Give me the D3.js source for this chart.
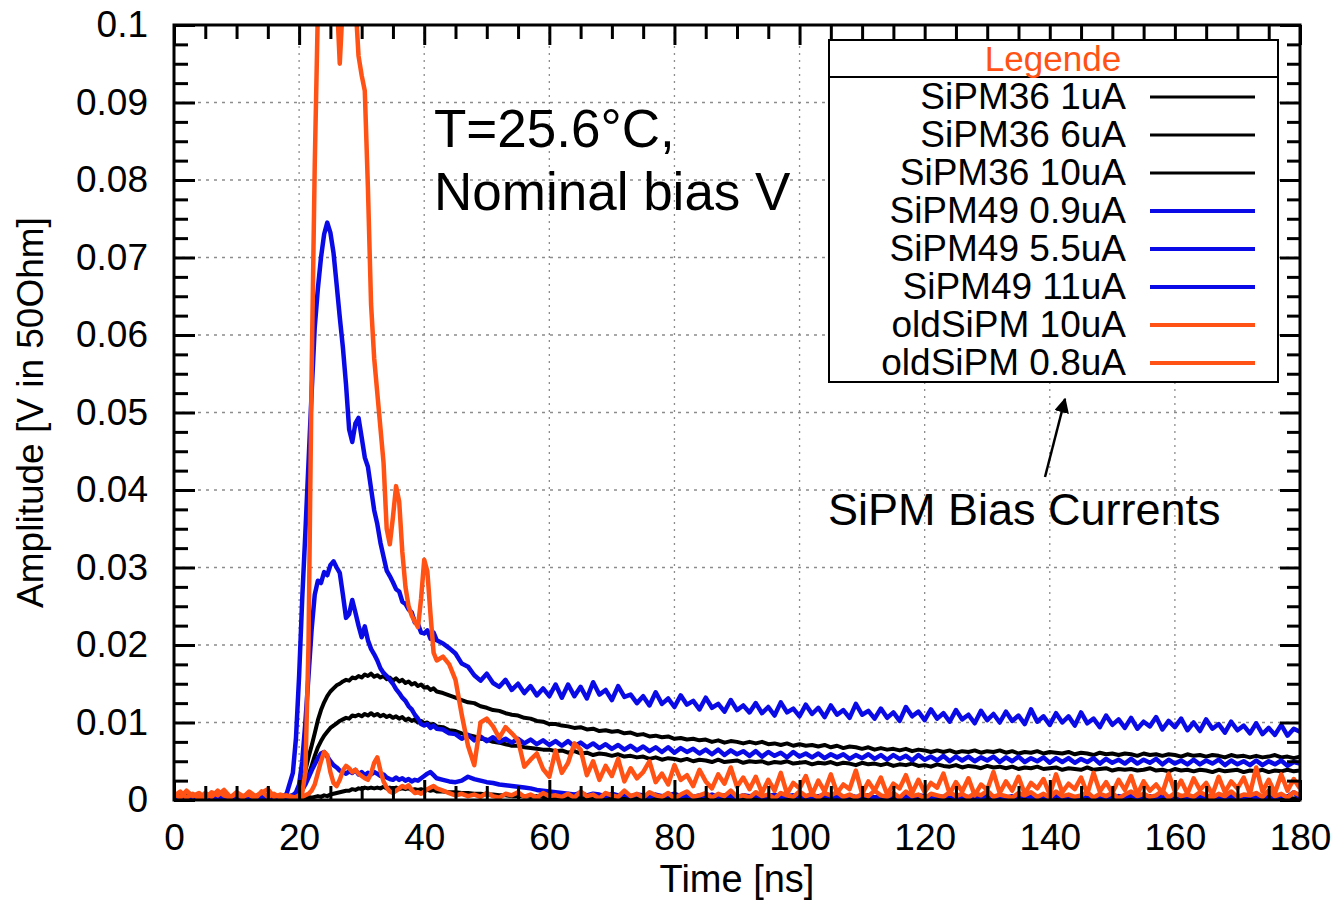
<!DOCTYPE html>
<html>
<head>
<meta charset="utf-8">
<script src="https://cdn.jsdelivr.net/npm/d3@7"></script>
<style>
  body { margin: 0; background: #fff; }
  text { font-family: "Liberation Sans", Arial, Helvetica, sans-serif; }
</style>
</head>
<body>
<div id="chart"></div>
<script>
// sample times in ns (finer around the pulse)
var times = [0,1,2,3,4,5,6,7,8,9,10,11,12,13,14,15,16,17,18,19,
  19.5,20,20.5,21,21.5,22,22.5,23,23.5,24,24.5,25,25.5,26,26.5,27,27.5,28,28.5,29,
  29.5,30,30.5,31,31.5,32,32.5,33,33.5,34,34.5,35,35.5,36,36.5,37,37.5,38,38.5,39,
  39.5,40,40.5,41,41.5,42,
  43,44,45,46,47,48,49,50,51,52,
  53,54,55,56,57,58,59,60,61,62,
  63,64,65,66,67,68,69,70,71,72,
  73,74,75,76,77,78,79,80,81,82,
  83,84,85,86,87,88,89,90,91,92,
  93,94,95,96,97,98,99,100,101,102,
  103,104,105,106,107,108,109,110,111,112,
  113,114,115,116,117,118,119,120,121,122,
  123,124,125,126,127,128,129,130,131,132,
  133,134,135,136,137,138,139,140,141,142,
  143,144,145,146,147,148,149,150,151,152,
  153,154,155,156,157,158,159,160,161,162,
  163,164,165,166,167,168,169,170,171,172,
  173,174,175,176,177,178,179,180];

// amplitudes in mV
var sipm36_1uA = [0.3,0.2,0.4,0.1,0.3,0.2,0.4,0.3,0.1,0.3,0.2,0.4,0.2,0.3,0.1,0.3,0.2,0.4,0.2,0.3,
  0.2,0.3,0.2,0.3,0.4,0.3,0.4,0.5,0.4,0.6,0.5,0.7,0.8,0.9,1.0,1.1,1.2,1.2,1.4,1.3,
  1.5,1.4,1.6,1.5,1.6,1.5,1.6,1.5,1.7,1.5,1.6,1.5,1.6,1.4,1.5,1.4,1.5,1.3,1.4,1.3,
  1.4,1.2,1.3,1.2,1.3,1.1,
  1.1,1.0,1.0,0.9,0.9,0.8,0.8,0.7,0.7,0.6,
  0.6,0.5,0.5,0.5,0.4,0.5,0.4,0.4,0.3,0.4,
  0.3,0.4,0.2,0.3,0.4,0.3,0.2,0.4,0.3,0.3,
  0.2,0.4,0.3,0.2,0.3,0.4,0.3,0.2,0.4,0.3,
  0.3,0.2,0.4,0.3,0.2,0.3,0.4,0.2,0.3,0.3,
  0.4,0.3,0.2,0.3,0.4,0.2,0.3,0.4,0.3,0.2,
  0.3,0.4,0.3,0.2,0.3,0.3,0.4,0.2,0.3,0.4,
  0.2,0.3,0.4,0.3,0.2,0.4,0.3,0.3,0.2,0.4,
  0.3,0.2,0.3,0.4,0.3,0.2,0.4,0.3,0.2,0.3,
  0.4,0.3,0.2,0.3,0.4,0.3,0.3,0.2,0.4,0.3,
  0.2,0.4,0.3,0.3,0.2,0.4,0.3,0.2,0.3,0.4,
  0.3,0.2,0.4,0.3,0.3,0.2,0.3,0.4,0.2,0.3,
  0.4,0.3,0.2,0.4,0.3,0.2,0.3,0.3,0.4,0.2,
  0.3,0.4,0.2,0.3,0.4,0.3,0.2,0.3];

var sipm36_6uA = [0.3,0.4,0.2,0.3,0.5,0.3,0.2,0.4,0.3,0.5,0.2,0.4,0.3,0.2,0.4,0.3,0.5,0.3,0.4,0.5,
  0.6,0.9,1.5,2.3,3.2,4.4,5.7,6.8,7.6,8.3,8.8,9.3,9.6,9.9,10.2,10.4,10.6,10.5,10.9,10.8,
  11.0,10.8,11.1,10.9,11.2,10.9,11.1,10.8,11.0,10.7,10.9,10.6,10.8,10.5,10.7,10.3,10.5,10.2,10.4,10.0,
  10.2,9.9,10.0,9.7,9.8,9.5,
  9.4,9.0,8.9,8.6,8.4,8.2,7.9,7.8,7.5,7.4,
  7.2,7.0,7.0,6.8,6.7,6.6,6.5,6.5,6.3,6.4,
  6.1,6.3,6.0,6.1,5.8,6.0,5.9,5.7,5.9,5.6,
  5.7,5.5,5.6,5.3,5.5,5.2,5.4,5.3,5.1,5.3,
  5.0,5.2,5.1,4.9,5.2,4.9,5.0,5.1,4.8,5.0,
  4.9,5.0,4.7,4.9,4.8,5.0,4.7,4.8,4.9,4.6,
  4.8,4.7,4.9,4.6,4.8,4.7,4.5,4.8,4.6,4.7,
  4.5,4.7,4.4,4.6,4.5,4.7,4.4,4.5,4.3,4.6,
  4.4,4.3,4.5,4.2,4.4,4.3,4.1,4.4,4.2,4.3,
  4.1,4.3,4.0,4.2,4.1,4.3,4.0,4.1,4.2,3.9,
  4.1,4.0,3.9,4.2,3.9,4.0,4.1,3.8,4.0,3.9,
  4.0,3.8,3.9,4.1,3.8,3.9,3.7,4.0,3.8,3.9,
  3.7,3.9,3.8,3.6,3.9,3.7,3.8,3.9,3.6,3.8,
  3.7,3.9,3.6,3.8,3.7,3.9,3.7,3.8];

var sipm36_10uA = [0.4,0.3,0.5,0.2,0.4,0.3,0.5,0.4,0.2,0.4,0.3,0.5,0.3,0.4,0.2,0.5,0.3,0.4,0.5,0.6,
  0.7,1.0,2.2,3.8,5.5,7.0,8.6,10.3,11.6,12.6,13.4,14.0,14.4,14.8,15.0,15.3,15.5,15.4,15.8,15.7,
  16.0,15.8,16.2,16.0,16.3,15.9,16.1,15.8,16.0,15.6,15.8,15.4,15.7,15.3,15.5,15.1,15.3,14.9,15.1,14.7,
  14.9,14.5,14.6,14.2,14.4,14.0,
  13.8,13.5,13.2,12.9,12.6,12.5,12.1,11.9,11.6,11.5,
  11.2,11.0,10.9,10.6,10.5,10.2,10.1,9.8,9.8,9.6,
  9.5,9.3,9.4,9.1,9.2,8.9,9.0,8.8,8.9,8.6,
  8.7,8.4,8.5,8.2,8.3,8.1,8.2,7.9,8.0,7.8,
  7.9,7.7,7.8,7.5,7.7,7.4,7.6,7.5,7.3,7.5,
  7.3,7.5,7.2,7.3,7.1,7.3,7.0,7.2,7.0,7.1,
  6.9,7.1,6.8,7.0,6.7,6.9,6.8,6.6,6.8,6.5,
  6.7,6.5,6.6,6.4,6.6,6.3,6.5,6.4,6.2,6.4,
  6.2,6.4,6.1,6.3,6.2,6.4,6.1,6.3,6.2,6.4,
  6.1,6.3,6.0,6.2,6.1,6.3,6.0,6.2,6.1,6.0,
  6.2,5.9,6.1,6.0,5.8,6.1,5.9,6.0,5.8,6.0,
  5.9,5.7,6.0,5.8,5.9,5.7,5.9,5.8,5.6,5.9,
  5.7,5.8,5.6,5.8,5.7,5.5,5.8,5.6,5.7,5.5,
  5.7,5.5,5.6,5.8,5.5,5.6,5.4,5.6];

var sipm49_09uA = [0.2,0.4,0.3,0.1,0.3,0.4,0.2,0.3,0.4,0.2,0.3,0.1,0.4,0.3,0.2,0.4,0.3,0.2,0.3,0.5,
  0.6,0.9,1.3,2.0,2.9,3.8,4.6,5.4,6.0,6.2,5.6,5.0,4.5,4.2,3.8,3.6,3.4,3.7,3.5,3.9,
  3.3,3.6,3.2,3.5,3.3,3.6,3.4,3.1,3.3,2.9,2.7,2.6,2.9,2.6,2.8,2.5,2.7,2.4,2.6,2.5,
  2.8,3.1,3.4,3.6,3.2,2.8,
  2.6,2.4,2.3,2.5,3.0,2.7,2.5,2.3,2.2,2.0,
  1.9,1.8,1.7,1.6,1.5,1.3,1.2,1.1,1.0,0.9,
  0.8,0.7,0.9,0.6,0.8,0.7,0.5,0.8,0.6,0.7,
  0.5,0.7,0.6,0.4,0.7,0.5,0.6,0.8,0.5,0.6,
  0.4,0.6,0.5,0.7,0.4,0.6,0.5,0.3,0.6,0.5,
  0.6,0.4,0.5,0.7,0.4,0.5,0.6,0.4,0.5,0.3,
  0.5,0.6,0.4,0.5,0.3,0.6,0.4,0.5,0.6,0.3,
  0.5,0.4,0.6,0.3,0.5,0.4,0.6,0.5,0.3,0.5,
  0.4,0.6,0.3,0.5,0.4,0.5,0.3,0.6,0.4,0.5,
  0.3,0.5,0.4,0.6,0.3,0.4,0.5,0.3,0.6,0.4,
  0.5,0.3,0.4,0.6,0.3,0.5,0.4,0.3,0.5,0.4,
  0.6,0.3,0.4,0.5,0.3,0.6,0.4,0.3,0.5,0.4,
  0.3,0.5,0.4,0.6,0.3,0.4,0.5,0.3,0.4,0.6,
  0.3,0.5,0.4,0.3,0.6,0.4,1.0,0.3];

var sipm49_55uA = [0.3,0.5,0.2,0.4,0.3,0.2,0.5,0.3,0.4,0.2,0.3,0.5,0.2,0.4,0.3,0.5,0.2,0.4,0.3,0.6,
  1.0,2.0,5.0,10.0,16.0,22.0,26.5,28.3,28.0,29.4,29.0,30.3,30.8,30.0,29.3,26.5,23.5,24.0,25.8,24.2,
  22.5,21.0,22.4,20.6,19.5,18.8,18.0,17.0,16.4,16.0,15.5,15.0,14.3,13.8,13.2,12.8,12.1,11.7,11.0,10.5,
  9.8,9.6,9.8,9.3,9.6,9.2,
  9.1,8.6,8.5,7.9,8.4,7.7,8.2,7.6,8.1,7.5,
  7.9,7.4,7.9,7.3,7.8,7.2,7.7,7.1,7.6,7.0,
  7.6,6.9,7.4,6.8,7.3,6.7,7.2,6.6,7.1,6.5,
  7.0,6.4,6.9,6.3,6.8,6.2,6.8,6.1,6.7,6.2,
  6.6,6.0,6.5,5.9,6.5,5.8,6.4,5.9,6.3,5.7,
  6.3,5.6,6.2,5.7,6.1,5.5,6.2,5.6,6.0,5.5,
  6.0,5.4,5.9,5.5,5.9,5.3,5.8,5.4,5.9,5.3,
  5.8,5.2,5.8,5.3,5.7,5.1,5.8,5.2,5.6,5.1,
  5.7,5.0,5.6,5.1,5.6,5.0,5.5,5.1,5.6,4.9,
  5.5,5.0,5.6,4.9,5.4,5.0,5.5,4.8,5.4,4.9,
  5.4,4.8,5.3,4.9,5.4,4.7,5.3,4.8,5.2,4.7,
  5.3,4.7,5.2,4.8,5.3,4.6,5.2,4.7,5.1,4.6,
  5.2,4.6,5.1,4.7,5.2,4.5,5.1,4.6,5.0,4.5,
  5.1,4.5,5.0,4.6,5.1,4.4,4.9,4.7];

var sipm49_11uA = [0.3,0.5,0.2,0.4,0.6,0.3,0.2,0.5,0.4,0.3,0.5,0.2,0.4,0.3,0.6,0.2,0.4,0.3,0.8,3.5,
  8.0,16.0,26.0,34.5,43.5,52.5,61.0,66.0,70.0,73.0,74.5,73.2,70.6,66.5,62.3,58.4,53.6,47.8,46.2,48.6,
  49.3,46.8,44.2,43.0,40.2,37.4,35.6,33.2,31.4,29.6,28.9,28.1,27.2,26.9,25.6,25.3,24.6,24.2,22.9,22.7,
  21.6,21.5,21.9,20.8,21.6,20.6,
  20.2,19.6,18.9,17.6,17.2,16.1,15.4,16.3,15.1,14.6,
  15.5,14.2,15.0,13.8,14.7,13.5,14.4,13.4,14.9,13.2,
  14.9,13.4,14.6,13.1,15.2,13.6,14.2,12.9,14.7,13.3,
  13.6,12.5,13.4,12.2,13.9,12.4,13.1,12.0,13.5,12.3,
  12.8,11.7,13.2,11.9,12.4,11.4,12.9,11.6,12.2,11.3,
  12.5,11.2,12.0,10.9,12.6,11.3,11.8,10.8,12.3,11.1,
  11.9,10.7,12.2,11.0,11.6,10.6,12.4,11.0,11.5,10.5,
  11.8,10.6,11.3,10.2,12.0,10.8,11.4,10.3,11.7,10.5,
  11.2,10.1,11.6,10.4,11.0,9.9,11.5,10.3,11.1,10.0,
  11.4,10.2,10.9,9.8,11.7,10.1,10.8,9.7,11.2,10.0,
  10.8,9.6,11.3,9.9,10.5,9.4,10.9,9.7,10.4,9.3,
  10.6,9.2,10.1,9.5,10.7,9.1,10.2,9.4,10.5,9.0,
  10.0,8.9,10.4,9.2,9.8,8.7,10.1,9.0,9.6,8.6,
  9.9,8.5,9.3,8.4,9.7,8.3,9.2,8.8];

var oldsipm_10uA = [0.8,0.3,1.2,0.5,0.9,0.2,1.0,0.6,1.3,0.4,0.8,0.3,1.1,0.5,0.9,1.4,0.4,0.7,0.5,0.3,
  0.4,0.6,0.9,3.5,20.0,55.0,82.0,102,112,118,121,120,116,104,95.0,103,115,118,112,103,
  96.0,93.5,91.5,79.0,64.0,57.0,52.5,48.0,43.5,35.0,33.0,36.5,40.5,38.5,32.0,27.5,25.0,23.8,23.0,22.3,
  26.0,31.0,29.5,24.0,19.0,18.0,
  18.5,17.5,15.5,11.0,7.0,4.5,10.0,10.5,9.5,8.0,
  9.4,8.6,7.7,4.3,5.2,6.0,4.0,3.0,6.4,3.5,
  4.8,7.3,6.5,3.2,5.0,2.6,4.4,3.1,5.3,2.4,
  4.1,2.8,3.6,5.0,2.3,3.4,2.0,4.5,2.6,3.2,
  1.8,3.9,2.4,1.5,3.3,2.1,4.2,1.7,2.9,1.4,
  3.0,0.9,2.6,1.2,3.5,0.8,2.2,1.5,3.1,0.7,
  2.5,1.1,3.3,0.9,2.0,1.4,3.8,0.8,2.4,1.2,
  2.9,0.7,2.1,1.5,3.2,0.9,2.6,1.0,2.2,1.6,
  3.4,0.8,2.3,1.1,2.8,0.6,2.0,1.3,3.6,0.9,
  2.4,1.2,3.0,0.8,2.2,1.5,2.7,0.7,3.3,1.0,
  2.1,1.4,2.9,0.8,3.5,1.1,2.3,0.9,2.6,1.3,
  3.1,0.7,2.4,1.2,2.0,0.9,3.4,1.1,2.5,0.8,
  2.8,1.3,2.2,0.7,3.0,1.0,2.4,1.5,2.9,0.8,
  4.2,1.1,2.6,0.9,3.3,1.2,2.7,1.5];

var oldsipm_08uA = [0.5,1.1,0.3,0.8,0.2,0.9,0.4,1.2,0.6,0.3,1.0,0.5,0.7,0.2,1.1,0.4,0.8,0.3,0.6,0.4,
  0.3,0.5,0.4,0.6,0.8,1.2,2.0,3.5,5.0,6.2,5.8,3.6,2.2,1.8,2.6,3.8,4.4,4.1,3.6,3.9,
  3.4,3.1,2.8,2.6,3.4,4.8,5.5,3.8,2.4,1.6,1.1,0.9,1.2,1.5,1.8,1.6,1.9,1.3,0.9,1.0,
  0.8,1.1,1.4,1.6,1.8,1.5,
  1.2,0.9,0.6,0.8,0.5,0.7,0.4,0.9,0.5,0.3,
  0.8,0.6,1.0,0.4,0.7,0.3,0.9,0.5,0.6,0.4,
  0.8,0.3,1.1,0.5,0.7,0.2,0.9,0.6,0.4,1.2,
  0.5,0.8,0.3,1.0,0.6,0.4,0.9,0.2,0.7,1.1,
  0.4,0.6,0.9,0.3,0.8,0.5,1.2,0.4,0.6,0.3,
  1.0,0.5,0.7,0.2,0.9,0.6,0.4,1.1,0.5,0.8,
  0.3,0.9,0.6,1.0,0.4,0.7,0.3,0.8,0.5,1.2,
  0.6,0.4,0.9,0.3,1.1,0.5,0.7,0.2,0.8,0.6,
  0.4,1.0,0.5,0.8,0.3,0.9,0.6,1.2,0.4,0.7,
  0.5,0.3,0.9,0.6,1.0,0.4,0.8,0.3,1.1,0.5,
  0.7,0.4,0.6,1.0,0.3,0.8,0.5,0.9,0.2,0.7,
  1.1,0.5,0.8,0.4,0.6,1.2,0.3,0.9,0.5,0.7,
  0.4,1.0,0.6,0.3,0.8,0.5,1.1,0.4,0.7,0.6,
  0.9,0.4,1.2,0.5,0.8,0.3,1.0,0.6];

var seriesNames = ["SiPM36 1uA", "SiPM36 6uA", "SiPM36 10uA", "SiPM49 0.9uA",
                   "SiPM49 5.5uA", "SiPM49 11uA", "oldSiPM 10uA", "oldSiPM 0.8uA"];
var seriesValues = [sipm36_1uA, sipm36_6uA, sipm36_10uA, sipm49_09uA,
                    sipm49_55uA, sipm49_11uA, oldsipm_10uA, oldsipm_08uA];

var xMajor = [0, 20, 40, 60, 80, 100, 120, 140, 160, 180];
var yMajor = [0, 10, 20, 30, 40, 50, 60, 70, 80, 90, 100];   // mV
var yTickLabels = ["0", "0.01", "0.02", "0.03", "0.04", "0.05", "0.06", "0.07", "0.08", "0.09", "0.1"];

// styling
var BLUE = "#0a0ae6", ORANGE = "#ff5214";
var lineColors = ["#000", "#000", "#000", BLUE, BLUE, BLUE, ORANGE, ORANGE];
var lineWidths = [4, 4, 4, 4.5, 4.5, 4.5, 4.5, 4.5];
var legendWidths = [3, 3, 3, 4, 4, 4, 4, 4];

var W = 1336, H = 904;
var plot = { left: 174, right: 1300, top: 25, bottom: 800 };

var svg = d3.select("#chart").append("svg")
    .attr("width", W)
    .attr("height", H);
svg.append("rect").attr("width", W).attr("height", H).attr("fill", "#fff");

var x = d3.scaleLinear().domain([0, 180]).range([plot.left, plot.right]);
var y = d3.scaleLinear().domain([0, 100]).range([plot.bottom, plot.top]);

svg.append("clipPath").attr("id", "plotclip")
    .append("rect")
    .attr("x", plot.left).attr("y", plot.top)
    .attr("width", plot.right - plot.left).attr("height", plot.bottom - plot.top);

// grid
var grid = svg.append("g").attr("stroke", "#8c8c8c").attr("stroke-width", 1.3);
grid.selectAll(".hgrid")
    .data(yMajor.filter(d => d > 0 && d < 100))
    .enter().append("line")
    .attr("x1", plot.left).attr("x2", plot.right)
    .attr("y1", d => y(d)).attr("y2", d => y(d))
    .attr("stroke-dasharray", "3,5");
grid.selectAll(".vgrid")
    .data(xMajor.filter(d => d > 0 && d < 180))
    .enter().append("line")
    .attr("y1", plot.top).attr("y2", plot.bottom)
    .attr("x1", d => x(d)).attr("x2", d => x(d))
    .attr("stroke-dasharray", "2,5");

// curves
var line = d3.line()
    .defined(d => d[1] != null && !isNaN(d[1]))
    .x(d => x(d[0]))
    .y(d => y(d[1]));

var curves = svg.append("g").attr("clip-path", "url(#plotclip)");
seriesValues.forEach(function (vals, i) {
    if (vals.length !== times.length) console.error(seriesNames[i], vals.length, times.length);
    var pts = times.map((t, j) => [t, vals[j]]);
    curves.append("path")
        .datum(pts)
        .attr("fill", "none")
        .attr("stroke", lineColors[i])
        .attr("stroke-width", lineWidths[i])
        .attr("stroke-linejoin", "round")
        .attr("d", line);
});

// axes: ticks on all four sides pointing inward
var xMinor = d3.range(0, 181, 5).filter(d => d % 20 !== 0);
var yMinor = d3.range(0, 100.1, 2.5).filter(d => d % 10 !== 0);

function styleAxis(g) {
    g.select(".domain").remove();
    g.selectAll(".tick line").attr("stroke", "#000").attr("stroke-width", 3);
    g.selectAll("text")
        .attr("fill", "#000")
        .style("font-family", '"Liberation Sans", Arial, Helvetica, sans-serif')
        .style("font-size", "37px");
}

svg.append("g").attr("transform", "translate(0," + plot.bottom + ")")
    .call(d3.axisBottom(x).tickValues(xMajor).tickSize(-20).tickPadding(24).tickFormat(d => d))
    .call(styleAxis);
svg.append("g").attr("transform", "translate(0," + plot.bottom + ")")
    .call(d3.axisBottom(x).tickValues(xMinor).tickSize(-14).tickFormat(""))
    .call(styleAxis);
svg.append("g").attr("transform", "translate(0," + plot.top + ")")
    .call(d3.axisTop(x).tickValues(xMajor).tickSize(-20).tickFormat(""))
    .call(styleAxis);
svg.append("g").attr("transform", "translate(0," + plot.top + ")")
    .call(d3.axisTop(x).tickValues(xMinor).tickSize(-14).tickFormat(""))
    .call(styleAxis);

svg.append("g").attr("transform", "translate(" + plot.left + ",0)")
    .call(d3.axisLeft(y).tickValues(yMajor).tickSize(-21).tickPadding(26)
        .tickFormat((d, i) => yTickLabels[i]))
    .call(styleAxis);
svg.append("g").attr("transform", "translate(" + plot.left + ",0)")
    .call(d3.axisLeft(y).tickValues(yMinor).tickSize(-14).tickFormat(""))
    .call(styleAxis);
svg.append("g").attr("transform", "translate(" + plot.right + ",0)")
    .call(d3.axisRight(y).tickValues(yMajor).tickSize(-20).tickFormat(""))
    .call(styleAxis);
svg.append("g").attr("transform", "translate(" + plot.right + ",0)")
    .call(d3.axisRight(y).tickValues(yMinor).tickSize(-13).tickFormat(""))
    .call(styleAxis);

// frame
svg.append("rect")
    .attr("x", plot.left).attr("y", plot.top)
    .attr("width", plot.right - plot.left).attr("height", plot.bottom - plot.top)
    .attr("fill", "none").attr("stroke", "#000").attr("stroke-width", 3);

// axis titles
svg.append("text")
    .attr("x", (plot.left + plot.right) / 2).attr("y", 892)
    .attr("text-anchor", "middle")
    .style("font-size", "38px")
    .text("Time [ns]");
svg.append("text")
    .attr("transform", "translate(43," + (plot.top + plot.bottom) / 2 + ") rotate(-90)")
    .attr("text-anchor", "middle")
    .style("font-size", "37px")
    .text("Amplitude [V in 50Ohm]");

// legend
var lg = svg.append("g");
lg.append("rect")
    .attr("x", 829).attr("y", 40).attr("width", 449).attr("height", 342)
    .attr("fill", "#fff").attr("stroke", "#000").attr("stroke-width", 2);
lg.append("line")
    .attr("x1", 829).attr("x2", 1278).attr("y1", 77).attr("y2", 77)
    .attr("stroke", "#000").attr("stroke-width", 2);
lg.append("text")
    .attr("x", 1053).attr("y", 71)
    .attr("text-anchor", "middle")
    .attr("fill", ORANGE)
    .style("font-size", "35px")
    .text("Legende");

var rows = lg.selectAll(".row")
    .data(seriesNames)
    .enter().append("g")
    .attr("transform", (d, i) => "translate(0," + (97 + i * 38) + ")");
rows.append("text")
    .attr("x", 1126).attr("y", 12)
    .attr("text-anchor", "end")
    .style("font-size", "37px")
    .text(d => d);
rows.append("line")
    .attr("x1", 1150).attr("x2", 1255)
    .attr("stroke", (d, i) => lineColors[i])
    .attr("stroke-width", (d, i) => legendWidths[i]);

// annotations
var note = svg.append("text").style("font-size", "53px");
note.append("tspan").attr("x", 434).attr("y", 147).text("T=25.6°C,");
note.append("tspan").attr("x", 434).attr("y", 210).text("Nominal bias V");

svg.append("defs").append("marker")
    .attr("id", "arrowhead")
    .attr("viewBox", "0 0 10 10")
    .attr("refX", 9).attr("refY", 5)
    .attr("markerWidth", 6).attr("markerHeight", 6)
    .attr("markerUnits", "strokeWidth")
    .attr("orient", "auto")
    .append("path")
    .attr("d", "M0,0 L10,5 L0,10 z")
    .attr("fill", "#000");
svg.append("line")
    .attr("x1", 1045).attr("y1", 477)
    .attr("x2", 1065).attr("y2", 399)
    .attr("stroke", "#000").attr("stroke-width", 2.5)
    .attr("marker-end", "url(#arrowhead)");
svg.append("text")
    .attr("x", 828).attr("y", 525)
    .style("font-size", "45px")
    .text("SiPM Bias Currents");
</script>
</body>
</html>
